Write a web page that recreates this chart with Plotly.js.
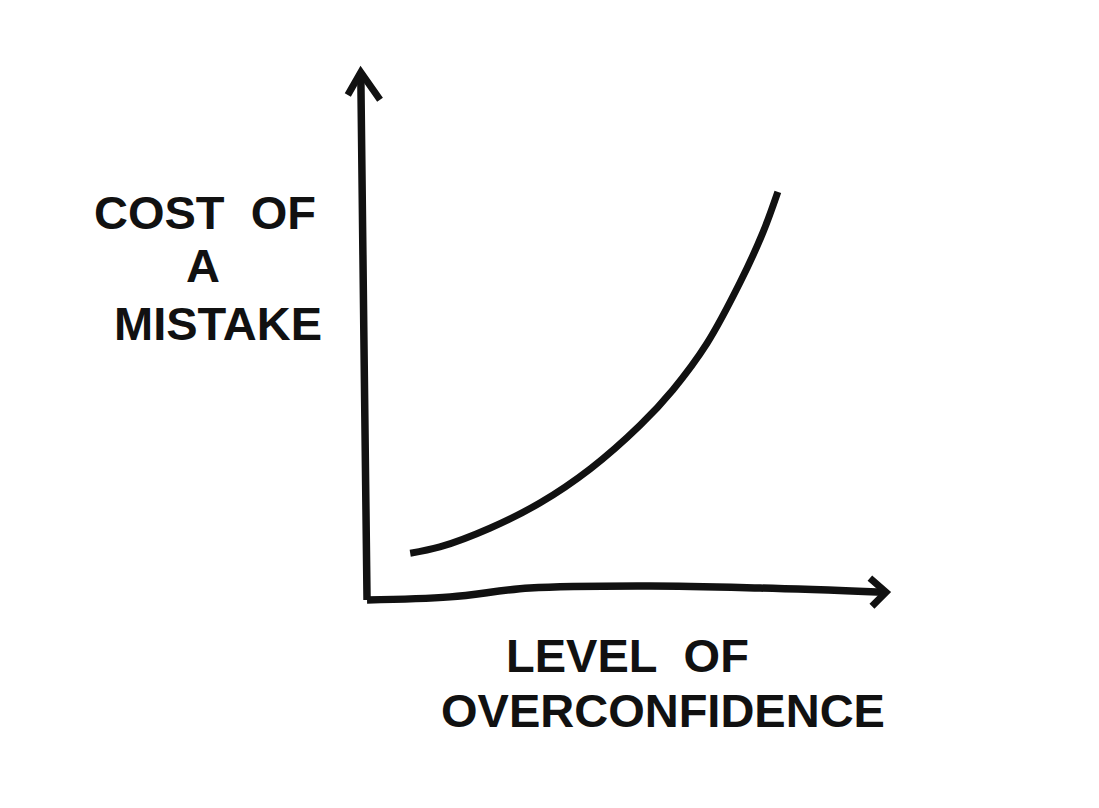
<!DOCTYPE html>
<html>
<head>
<meta charset="utf-8">
<script src="https://cdn.plot.ly/plotly-3.0.1.min.js"></script>
<style>html,body{margin:0;padding:0;background:#fff;}#chart{width:1099px;height:808px;}</style>
</head>
<body>
<div id="chart"></div>
<script>
// Curve: cost of a mistake vs level of overconfidence (hand-drawn sketch)
const curveX = [0.85, 1.42, 2.38, 3.35, 4.31, 5.27, 5.90, 6.56, 7.19, 7.63, 7.92];
const curveY = [0.90, 1.02, 1.38, 1.87, 2.52, 3.36, 4.04, 4.94, 6.10, 7.06, 7.85];

// Hand-drawn axis strokes
const yAxisX = [0.02, -0.04, -0.10];
const yAxisY = [0.00, 5.00, 10.12];
const yArrowX = [-0.35, -0.10, 0.27];
const yArrowY = [9.71, 10.15, 9.62];
const xAxisX = [0.02, 1.62, 3.15, 5.46, 7.58, 9.96];
const xAxisY = [0.00, 0.06, 0.23, 0.27, 0.23, 0.15];
const xArrowX = [9.69, 10.00, 9.73];
const xArrowY = [0.42, 0.15, -0.12];

// Labels (positions as fractions of the plotting area)
const yLabelLines = ["COST&nbsp; OF", "A", "MISTAKE"];
const yLabelX = [-0.175, -0.178, -0.154];
const yLabelY = [0.704, 0.620, 0.527];
const xLabelLines = ["LEVEL&nbsp; OF", "OVERCONFIDENCE"];
const xLabelX = [0.503, 0.559];
const xLabelY = [-0.005, -0.093];

const ink = '#111111';
const stroke = (x, y, w, shape) => ({
  x: x, y: y, type: 'scatter', mode: 'lines',
  line: {color: ink, width: w, shape: shape || 'spline', smoothing: 1},
  hoverinfo: 'skip', showlegend: false
});

const traces = [
  stroke(yAxisX, yAxisY, 7.5),
  stroke(yArrowX, yArrowY, 7, 'linear'),
  stroke(xAxisX, xAxisY, 7.5),
  stroke(xArrowX, xArrowY, 7, 'linear'),
  stroke(curveX, curveY, 7)
];

const font = {family: '"Liberation Sans", Arial, sans-serif', size: 47, color: ink};
const annotations = [];
yLabelLines.forEach((t, i) => annotations.push({
  text: '<b>' + t + '</b>', x: yLabelX[i], y: yLabelY[i], xref: 'paper', yref: 'paper',
  showarrow: false, xanchor: 'center', yanchor: 'middle', font: font
}));
xLabelLines.forEach((t, i) => annotations.push({
  text: '<b>' + t + '</b>', x: xLabelX[i], y: xLabelY[i], xref: 'paper', yref: 'paper',
  showarrow: false, xanchor: 'center', yanchor: 'middle', font: font
}));

const axisOff = {showgrid: false, zeroline: false, showticklabels: false, showline: false, ticks: '', fixedrange: true};
const layout = {
  width: 1099, height: 808,
  margin: {l: 314, r: 161, t: 28, b: 156},
  paper_bgcolor: '#ffffff', plot_bgcolor: '#ffffff',
  xaxis: Object.assign({range: [-1, 11]}, axisOff),
  yaxis: Object.assign({range: [-1, 11]}, axisOff),
  annotations: annotations,
  showlegend: false
};

Plotly.newPlot('chart', traces, layout, {displayModeBar: false, staticPlot: true});
</script>
</body>
</html>
